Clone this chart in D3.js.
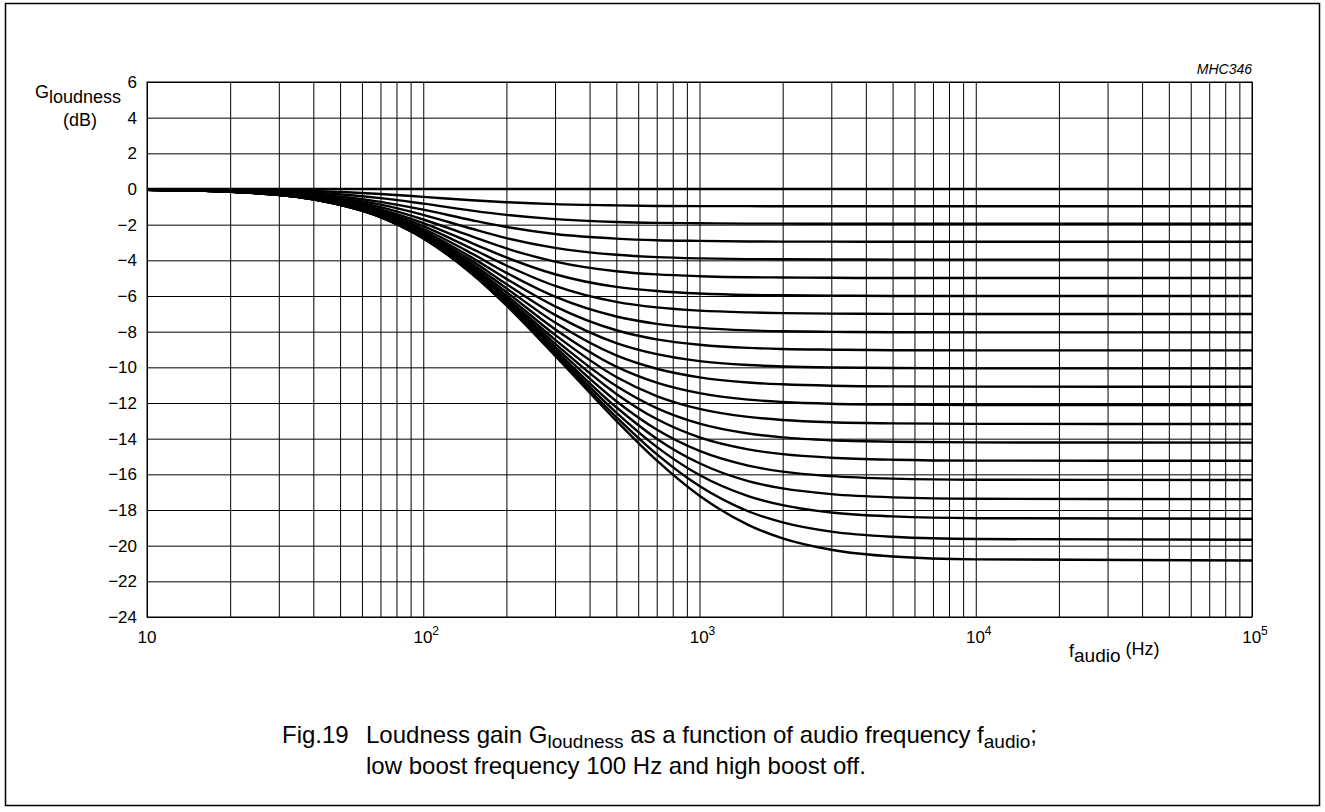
<!DOCTYPE html>
<html>
<head>
<meta charset="utf-8">
<script src="https://cdn.jsdelivr.net/npm/d3@7"></script>
<style>
  body { margin: 0; background: #fff; }
  svg { display: block; font-family: "Liberation Sans", Arial, sans-serif; }
</style>
</head>
<body>
<svg width="1325" height="812"></svg>
<script>
const freqs = [10, 20, 40, 70, 100, 150, 200, 300, 500, 700, 1000, 1500, 2000, 3000, 5000, 10000, 100000]

// G loudness (dB), one row per curve, top (0 dB) to bottom
const gains = [
  [0, 0, 0, 0, 0, 0, 0, 0, 0, 0, 0, 0, 0, 0, 0, 0, 0],
  [-0.01, -0.03, -0.11, -0.28, -0.44, -0.63, -0.74, -0.85, -0.92, -0.95, -0.96, -0.96, -0.97, -0.97, -0.97, -0.97, -0.97],
  [-0.01, -0.06, -0.20, -0.51, -0.82, -1.21, -1.45, -1.69, -1.85, -1.90, -1.92, -1.94, -1.94, -1.95, -1.95, -1.95, -1.95],
  [-0.02, -0.08, -0.28, -0.72, -1.16, -1.75, -2.13, -2.52, -2.78, -2.87, -2.91, -2.94, -2.95, -2.95, -2.96, -2.96, -2.96],
  [-0.02, -0.09, -0.34, -0.88, -1.45, -2.23, -2.75, -3.30, -3.69, -3.82, -3.89, -3.93, -3.94, -3.95, -3.96, -3.96, -3.96],
  [-0.03, -0.11, -0.39, -1.02, -1.71, -2.66, -3.33, -4.07, -4.61, -4.79, -4.89, -4.95, -4.96, -4.98, -4.99, -4.99, -4.99],
  [-0.03, -0.12, -0.43, -1.14, -1.91, -3.03, -3.84, -4.78, -5.49, -5.72, -5.86, -5.94, -5.96, -5.98, -6.00, -6.00, -6.00],
  [-0.03, -0.12, -0.46, -1.23, -2.08, -3.35, -4.29, -5.43, -6.33, -6.64, -6.82, -6.92, -6.96, -6.99, -7.00, -7.01, -7.01],
  [-0.03, -0.13, -0.49, -1.30, -2.23, -3.62, -4.70, -6.04, -7.15, -7.56, -7.79, -7.93, -7.98, -8.01, -8.03, -8.04, -8.04],
  [-0.03, -0.14, -0.51, -1.36, -2.34, -3.85, -5.04, -6.58, -7.92, -8.43, -8.73, -8.91, -8.97, -9.01, -9.04, -9.05, -9.05],
  [-0.04, -0.14, -0.53, -1.41, -2.43, -4.03, -5.33, -7.06, -8.64, -9.26, -9.65, -9.87, -9.95, -10.01, -10.04, -10.06, -10.06],
  [-0.04, -0.14, -0.54, -1.45, -2.51, -4.19, -5.57, -7.49, -9.33, -10.08, -10.56, -10.85, -10.95, -11.03, -11.07, -11.08, -11.09],
  [-0.04, -0.15, -0.55, -1.48, -2.57, -4.32, -5.78, -7.86, -9.96, -10.86, -11.45, -11.81, -11.94, -12.04, -12.09, -12.11, -12.12],
  [-0.04, -0.15, -0.56, -1.51, -2.62, -4.42, -5.96, -8.18, -10.54, -11.61, -12.33, -12.78, -12.95, -13.08, -13.14, -13.17, -13.18],
  [-0.04, -0.15, -0.56, -1.52, -2.66, -4.51, -6.10, -8.45, -11.05, -12.29, -13.16, -13.71, -13.93, -14.09, -14.17, -14.21, -14.22],
  [-0.04, -0.15, -0.57, -1.54, -2.69, -4.57, -6.21, -8.67, -11.49, -12.90, -13.93, -14.60, -14.87, -15.07, -15.18, -15.23, -15.24],
  [-0.04, -0.15, -0.57, -1.55, -2.71, -4.63, -6.30, -8.86, -11.90, -13.49, -14.69, -15.51, -15.85, -16.10, -16.24, -16.30, -16.32],
  [-0.04, -0.15, -0.58, -1.56, -2.73, -4.67, -6.38, -9.02, -12.24, -14.00, -15.38, -16.38, -16.79, -17.11, -17.29, -17.37, -17.39],
  [-0.04, -0.15, -0.58, -1.57, -2.75, -4.71, -6.44, -9.15, -12.54, -14.46, -16.04, -17.22, -17.73, -18.14, -18.36, -18.46, -18.49],
  [-0.04, -0.15, -0.58, -1.58, -2.76, -4.74, -6.49, -9.25, -12.79, -14.87, -16.66, -18.07, -18.69, -19.21, -19.50, -19.63, -19.67],
  [-0.04, -0.15, -0.58, -1.58, -2.77, -4.76, -6.53, -9.34, -13.00, -15.22, -17.20, -18.83, -19.59, -20.23, -20.61, -20.77, -20.83]
]

const yTicks = [-24, -22, -20, -18, -16, -14, -12, -10, -8, -6, -4, -2, 0, 2, 4, 6]
const xDecades = [10, 100, 1000, 10000, 100000]
const xExponents = ['', '2', '3', '4', '5']

const svg = d3.select('svg')
const plotLeft = 147, plotRight = 1252, plotTop = 82, plotBottom = 617

const x = d3.scaleLog().domain([10, 100000]).range([plotLeft, plotRight])
const y = d3.scaleLinear().domain([-24, 6]).range([plotBottom, plotTop])

// page frame
svg.append('rect')
    .attr('x', 5.5).attr('y', 3.5)
    .attr('width', 1314).attr('height', 802)
    .attr('fill', 'none')
    .attr('stroke', '#000')
    .attr('stroke-width', 1.5)

// vertical grid (1..9 per decade)
svg.append('g')
    .attr('transform', `translate(0,${plotBottom})`)
    .call(d3.axisBottom(x).tickValues(x.ticks()).tickSize(-(plotBottom - plotTop)).tickFormat(''))
    .call(g => g.select('.domain').remove())
    .call(g => g.selectAll('line').attr('stroke', '#000'))

// horizontal grid + y labels
const yAxis = svg.append('g')
    .attr('transform', `translate(${plotLeft},0)`)
    .call(d3.axisLeft(y).tickValues(yTicks).tickSize(-(plotRight - plotLeft)).tickPadding(10)
        .tickFormat(d => d < 0 ? '\u2212' + Math.abs(d) : d))
    .call(g => g.select('.domain').remove())
    .call(g => g.selectAll('line').attr('stroke', '#000'))
yAxis.selectAll('text')
    .attr('font-size', 17)
    .attr('font-family', '"Liberation Sans", Arial, sans-serif')
    .attr('fill', '#000')

// plot border
svg.append('rect')
    .attr('x', plotLeft).attr('y', plotTop)
    .attr('width', plotRight - plotLeft).attr('height', plotBottom - plotTop)
    .attr('fill', 'none').attr('stroke', '#000').attr('stroke-width', 1)

// x decade labels
const xl = svg.append('g').attr('font-size', 17)
xDecades.forEach((d, i) => {
    const t = xl.append('text')
        .attr('x', x(d) + (i ? 3 : 0))
        .attr('y', 643)
        .attr('text-anchor', 'middle')
        .text('10')
    if (xExponents[i]) {
        t.append('tspan').attr('dy', -8).attr('font-size', 12).text(xExponents[i])
    }
})

// curves
const line = d3.line()
    .x(d => x(d[0]))
    .y(d => y(d[1]))
    .curve(d3.curveMonotoneX)

svg.append('g')
    .selectAll('path')
    .data(gains.map(g => freqs.map((f, i) => [f, g[i]])))
    .enter().append('path')
        .attr('d', line)
        .attr('fill', 'none')
        .attr('stroke', '#000')
        .attr('stroke-width', 2.4)

// axis titles
const yt = svg.append('text').attr('x', 35).attr('y', 98).attr('font-size', 18)
yt.append('tspan').text('G')
yt.append('tspan').attr('dy', 5).text('loudness')
svg.append('text').attr('x', 80).attr('y', 126).attr('font-size', 18)
    .attr('text-anchor', 'middle').text('(dB)')

const xt = svg.append('text').attr('x', 1069).attr('y', 657).attr('font-size', 18)
xt.append('tspan').text('f')
xt.append('tspan').attr('dy', 5).attr('font-size', 19).text('audio')
xt.append('tspan').attr('dy', -7).attr('font-size', 18).text(' (Hz)')

svg.append('text')
    .attr('x', 1252).attr('y', 74)
    .attr('text-anchor', 'end')
    .attr('font-size', 14)
    .attr('font-style', 'italic')
    .text('MHC346')

// caption
const cap = svg.append('g').attr('font-size', 24)
cap.append('text').attr('x', 282).attr('y', 743).text('Fig.19')
const c1 = cap.append('text').attr('x', 366).attr('y', 743)
c1.append('tspan').text('Loudness gain G')
c1.append('tspan').attr('dy', 5).attr('font-size', 19).text('loudness')
c1.append('tspan').attr('dy', -5).text(' as a function of audio frequency f')
c1.append('tspan').attr('dy', 5).attr('font-size', 19).text('audio')
c1.append('tspan').attr('dy', -5).text(';')
cap.append('text').attr('x', 366).attr('y', 774).text('low boost frequency 100 Hz and high boost off.')
</script>
</body>
</html>
